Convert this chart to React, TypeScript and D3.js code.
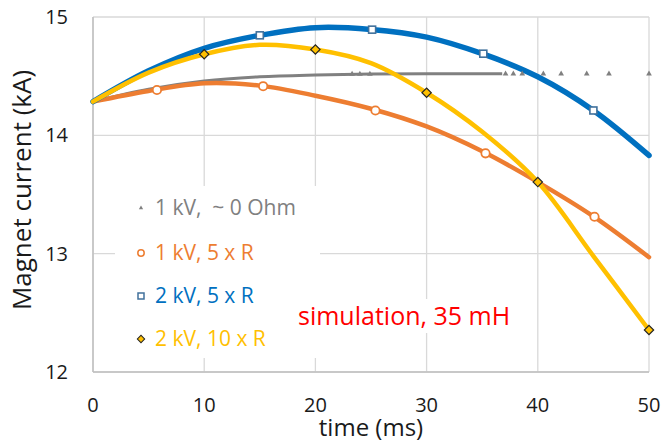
import React from "react";
import * as d3 from "d3";

const W = 664;
const H = 445;

const timeMs = [0, 5, 10, 15, 20, 25, 30, 35, 40, 45, 50];
const gray0Ohm = [14.285, 14.39, 14.46, 14.495, 14.51, 14.518, 14.52, 14.52, 14.52, 14.52, 14.52];
const orange1kV = [14.285, 14.375, 14.44, 14.42, 14.335, 14.225, 14.075, 13.865, 13.605, 13.315, 12.97];
const blue2kV = [14.285, 14.545, 14.735, 14.845, 14.91, 14.895, 14.83, 14.69, 14.495, 14.21, 13.83];
const yellow2kV = [14.285, 14.53, 14.685, 14.765, 14.725, 14.61, 14.36, 14.03, 13.605, 12.98, 12.355];

const grayLineEnd = 36.8;
const grayMarkT = [23.3, 24.0, 24.9, 37.1, 37.8, 38.6, 40.5, 42.1, 44.4, 46.4, 50];
const grayMarkV = [14.518, 14.518, 14.518, 14.52, 14.52, 14.52, 14.52, 14.52, 14.52, 14.52, 14.52];
const orangeMarkT = [5.75, 15.3, 25.4, 35.3, 45.1];
const orangeMarkV = [14.383, 14.415, 14.21, 13.848, 13.312];
const blueMarkT = [15, 25.1, 35.1, 45];
const blueMarkV = [14.845, 14.893, 14.69, 14.21];
const yellowMarkT = [10, 20, 30, 40, 50];
const yellowMarkV = [14.685, 14.725, 14.36, 13.605, 12.355];

const xTicks = [0, 10, 20, 30, 40, 50];
const yTicks = [12, 13, 14, 15];

const legendLabels = ["1 kV,  ~ 0 Ohm", "1 kV, 5 x R", "2 kV, 5 x R", "2 kV, 10 x R"];
const legendColors = ["#808080", "#ed7d31", "#0070c0", "#ffc000"];

const FONT = "'Open Sans', sans-serif";

export default function App() {
  const x = d3.scaleLinear().domain([0, 50]).range([93, 649]);
  const y = d3.scaleLinear().domain([12, 15]).range([372, 17]);

  const line = d3
    .line<[number, number]>()
    .x((d) => x(d[0]))
    .y((d) => y(d[1]))
    .curve(d3.curveCatmullRom.alpha(0.5));

  const pts = (vals: number[]) => timeMs.map((t, i) => [t, vals[i]] as [number, number]);
  const grayPts = pts(gray0Ohm).filter((d) => d[0] <= 35);
  grayPts.push([grayLineEnd, 14.52]);

  const tri = d3.symbol().type(d3.symbolTriangle).size(14)();
  const triLeg = d3.symbol().type(d3.symbolTriangle).size(8)();

  const legY = [208, 253, 296, 339];
  const legX = 141;

  return (
    <svg width={W} height={H} style={{ position: "absolute", left: 0, top: 0, background: "#fff" }}>
      <rect x={0} y={0} width={W} height={H} fill="#fff" />
      {/* grid */}
      {xTicks.map((t) => (
        <line key={"gx" + t} x1={x(t)} x2={x(t)} y1={y(15)} y2={y(12)} stroke="#d9d9d9" strokeWidth={1.3} />
      ))}
      {yTicks.map((t) => (
        <line key={"gy" + t} x1={x(0)} x2={x(50)} y1={y(t)} y2={y(t)} stroke="#d9d9d9" strokeWidth={1.3} />
      ))}
      {/* axes */}
      <line x1={x(0)} x2={x(0)} y1={y(15)} y2={y(12)} stroke="#bfbfbf" strokeWidth={1.5} />
      <line x1={x(0)} x2={x(50)} y1={y(12)} y2={y(12)} stroke="#bfbfbf" strokeWidth={1.5} />

      {/* tick labels */}
      {yTicks.map((t) => (
        <text key={"yl" + t} x={68} y={y(t)} dy="0.35em" textAnchor="end" fontFamily={FONT} fontSize={20} fill="#1a1a1a">
          {t}
        </text>
      ))}
      {xTicks.map((t) => (
        <text key={"xl" + t} x={x(t)} y={405} dy="0.35em" textAnchor="middle" fontFamily={FONT} fontSize={20} fill="#1a1a1a">
          {t}
        </text>
      ))}
      <text x={371} y={428} dy="0.35em" textAnchor="middle" fontFamily={FONT} fontSize={24} fill="#1a1a1a">
        time (ms)
      </text>
      <text
        transform={`translate(22,190) rotate(-90)`}
        dy="0.35em"
        textAnchor="middle"
        fontFamily={FONT}
        fontSize={26}
        fill="#1a1a1a"
      >
        Magnet current (kA)
      </text>

      {/* series lines */}
      <path d={line(grayPts) || ""} fill="none" stroke="#808080" strokeWidth={3} />
      <path d={line(pts(orange1kV)) || ""} fill="none" stroke="#ed7d31" strokeWidth={4.5} strokeLinecap="round" />
      <path d={line(pts(blue2kV)) || ""} fill="none" stroke="#0070c0" strokeWidth={5.5} strokeLinecap="round" />
      <path d={line(pts(yellow2kV)) || ""} fill="none" stroke="#ffc000" strokeWidth={4.5} strokeLinecap="round" />

      {/* markers */}
      {grayMarkT.map((t, i) => (
        <path key={"gm" + i} d={tri || ""} transform={`translate(${x(t)},${y(grayMarkV[i])})`} fill="#808080" />
      ))}
      {orangeMarkT.map((t, i) => (
        <circle key={"om" + i} cx={x(t)} cy={y(orangeMarkV[i])} r={4.2} fill="#fff" stroke="#ed7d31" strokeWidth={1.8} />
      ))}
      {blueMarkT.map((t, i) => (
        <rect key={"bm" + i} x={x(t) - 3.5} y={y(blueMarkV[i]) - 3.5} width={7} height={7} fill="#fff" stroke="#41719c" strokeWidth={1.6} />
      ))}
      {yellowMarkT.map((t, i) => (
        <rect
          key={"ym" + i}
          x={-3.3}
          y={-3.3}
          width={6.6}
          height={6.6}
          transform={`translate(${x(t)},${y(yellowMarkV[i])}) rotate(45)`}
          fill="#ffc000"
          stroke="#262626"
          strokeWidth={1.2}
        />
      ))}

      {/* legend */}
      <rect x={115} y={186} width={205} height={172} fill="#fff" />
      {legendLabels.map((lab, i) => (
        <text
          key={"lt" + i}
          x={155}
          y={legY[i]}
          dy="0.35em"
          fontFamily={FONT}
          fontSize={21}
          fill={legendColors[i]}
          style={{ whiteSpace: "pre" }}
        >
          {lab}
        </text>
      ))}
      <path d={triLeg || ""} transform={`translate(${legX},${legY[0]})`} fill="#808080" />
      <circle cx={legX} cy={legY[1]} r={3.2} fill="#fff" stroke="#ed7d31" strokeWidth={1.5} />
      <rect x={legX - 3} y={legY[2] - 3} width={6} height={6} fill="#fff" stroke="#41719c" strokeWidth={1.5} />
      <rect x={-2.6} y={-2.6} width={5.2} height={5.2} transform={`translate(${legX},${legY[3]}) rotate(45)`} fill="#ffc000" stroke="#262626" strokeWidth={1} />

      {/* annotation */}
      <rect x={295} y={299} width={225} height={34} fill="#fff" />
      <text x={298} y={316} dy="0.35em" fontFamily={FONT} fontSize={25} fill="#ff0000">
        simulation, 35 mH
      </text>
    </svg>
  );
}
